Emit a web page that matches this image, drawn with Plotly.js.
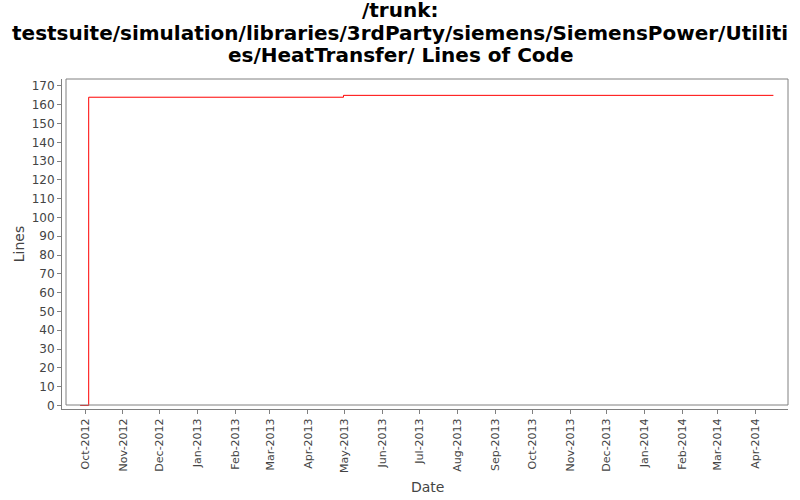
<!DOCTYPE html>
<html>
<head>
<meta charset="utf-8">
<script src="https://cdn.plot.ly/plotly-3.0.1.min.js"></script>
<style>
  html, body { margin: 0; padding: 0; background: #ffffff; }
  #plot { width: 800px; height: 500px; }
</style>
</head>
<body>
<div id="plot"></div>
<script>
// commit dates and line counts
const dates = ["2012-09-27", "2012-10-04", "2013-04-30", "2014-04-16"];
const lineCounts = [0, 164, 165, 165];

const titleLines = [
  "/trunk:",
  "testsuite/simulation/libraries/3rdParty/siemens/SiemensPower/Utiliti",
  "es/HeatTransfer/ Lines of Code",
];

const FONT = '"DejaVu Sans", Verdana, sans-serif';
const GREY = "#808080";
const TEXT = "#444444";

// plot area in px: x 62..788, y 79..409
const plotW = 726;
const plotH = 330;
const titleCentersPx = [10, 32.5, 54.5];

function axisBase() {
  return {
    showgrid: false,
    zeroline: false,
    showline: true,
    linecolor: GREY,
    linewidth: 1,
    ticks: "outside",
    ticklen: 4,
    tickwidth: 1,
    tickcolor: GREY,
    automargin: false,
  };
}

const trace = {
  x: dates,
  y: lineCounts,
  type: "scatter",
  mode: "lines",
  line: { color: "#ff0000", width: 1, shape: "hv" },
  hoverinfo: "x+y",
};

const titleNotes = titleLines.map((t, i) => ({
  text: "<b>" + t + "</b>",
  xref: "paper",
  yref: "paper",
  x: (400 - 62) / plotW,
  y: (409 - titleCentersPx[i]) / plotH,
  xanchor: "center",
  yanchor: "middle",
  showarrow: false,
  font: { size: 20, family: FONT, color: "#000000" },
}));

// x axis title placed by hand, the axis one sits too close to the rotated labels
const dateNote = {
  text: "Date",
  xref: "paper",
  yref: "paper",
  x: (427 - 62) / plotW,
  y: (409 - 487) / plotH,
  xanchor: "center",
  yanchor: "middle",
  showarrow: false,
  font: { size: 14, family: FONT, color: TEXT },
};

const layout = {
  width: 800,
  height: 500,
  paper_bgcolor: "#ffffff",
  plot_bgcolor: "#ffffff",
  font: { family: FONT, color: TEXT },
  showlegend: false,
  margin: { l: 62, r: 12, t: 79, b: 91, pad: 0 },
  xaxis: Object.assign(axisBase(), {
    type: "date",
    range: ["2012-09-12 05:00", "2014-04-27 22:00"],
    tick0: "2012-10-01",
    dtick: "M1",
    tickformat: "%b-%Y",
    tickangle: -90,
    tickfont: { size: 11, family: FONT, color: TEXT },
  }),
  yaxis: Object.assign(axisBase(), {
    range: [-1.9, 173.7],
    tick0: 0,
    dtick: 10,
    tickfont: { size: 12, family: FONT, color: TEXT },
    title: { text: "Lines", font: { size: 14, family: FONT, color: TEXT } },
  }),
  shapes: [
    {
      type: "rect",
      xref: "paper",
      yref: "paper",
      x0: 4 / plotW,
      x1: 1,
      y0: 4 / plotH,
      y1: 1,
      line: { color: GREY, width: 1 },
      fillcolor: "rgba(0,0,0,0)",
      layer: "above",
    },
  ],
  annotations: titleNotes.concat([dateNote]),
};

Plotly.newPlot("plot", [trace], layout, { displayModeBar: false, staticPlot: true });
</script>
</body>
</html>
